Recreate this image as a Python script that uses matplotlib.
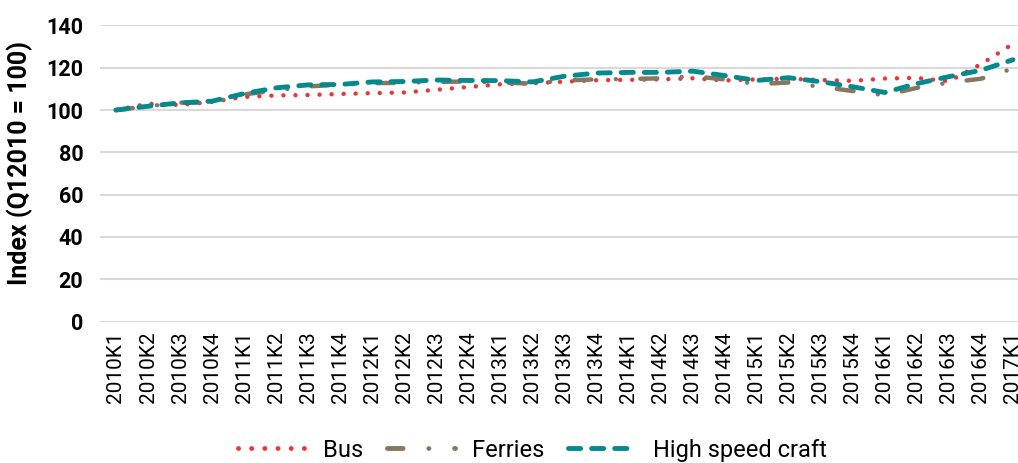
import matplotlib
matplotlib.use('Agg')
from matplotlib import pyplot as plt

quarters = ['2010K1', '2010K2', '2010K3', '2010K4',
            '2011K1', '2011K2', '2011K3', '2011K4',
            '2012K1', '2012K2', '2012K3', '2012K4',
            '2013K1', '2013K2', '2013K3', '2013K4',
            '2014K1', '2014K2', '2014K3', '2014K4',
            '2015K1', '2015K2', '2015K3', '2015K4',
            '2016K1', '2016K2', '2016K3', '2016K4',
            '2017K1']

bus = [100, 103, 102.4, 103.9,
       106.2, 106.9, 107.1, 107.6,
       108, 108.3, 109.6, 110.9,
       112.2, 112.7, 113.4, 114.1,
       114.3, 114.5, 115, 114,
       114.5, 114.8, 114.2, 113.8,
       114.9, 115.2, 113.6, 121.7,
       131.3]

ferries = [100, 101.8, 103.5, 103.6,
           107.4, 109.3, 111.2, 112,
           112.7, 112.9, 113.3, 113.5,
           113, 112.5, 114, 114.5,
           114.7, 115, 116, 114.5,
           112.3, 113, 111, 109,
           107, 110.5, 113, 114.8,
           119.6]

high_speed = [100, 101.8, 103.4, 104.2,
              107.8, 110.5, 111.9, 112.1,
              113.3, 113.5, 114.2, 114,
              113.9, 113.3, 116, 117.5,
              117.8, 117.8, 118.4, 116.3,
              114, 115.3, 113.4, 111,
              108.3, 112.5, 115.8, 118.8,
              123.8]

y_ticks = [0, 20, 40, 60, 80, 100, 120, 140]


def main():
    plt.rcParams['font.family'] = ['Roboto', 'DejaVu Sans']
    fig = plt.figure(figsize=(10.18, 4.63), dpi=100)
    # axes runs a little past the right edge, like the cropped original
    ax = fig.add_axes([0.0982, 0.3056, 0.9126, 0.6394])
    x = list(range(len(quarters)))

    ax.plot(x, bus, color='#E5373C', linewidth=3.2, linestyle=(0, (0.01, 2.7)),
            dash_capstyle='round', label='Bus', zorder=3)
    ax.plot(x, ferries, color='#857762', linewidth=3.2,
            linestyle=(0, (3.8, 5.5, 0.01, 5.5)),
            dash_capstyle='round', label='Ferries', zorder=4)
    ax.plot(x, high_speed, color='#04898C', linewidth=3.5, linestyle=(0, (2.5, 2.25)),
            dash_capstyle='round', label='High speed craft', zorder=5)

    ax.set_xlim(-0.5, len(quarters) - 0.5)
    ax.set_ylim(0, 140)
    ax.set_yticks(y_ticks)
    ax.set_xticks(x)
    ax.set_xticklabels(quarters, rotation=90, fontsize=15)
    ax.tick_params(axis='x', length=0, pad=7)
    ax.tick_params(axis='y', length=0, pad=12, labelsize=15.5)
    for lbl in ax.get_yticklabels():
        lbl.set_fontweight('bold')

    ax.grid(axis='y', color='#D9D9D9', linewidth=1.5)
    ax.set_axisbelow(True)
    for side in ['top', 'right', 'left', 'bottom']:
        ax.spines[side].set_visible(False)

    ax.set_ylabel('Index (Q12010 = 100)', fontsize=18, fontweight='bold')
    ax.yaxis.set_label_coords(-0.072, 0.535)

    # legend: long handles and wide gaps as in the source
    legend = fig.legend(loc='center', bbox_to_anchor=(0.523, 0.028), ncol=3,
                        frameon=False, fontsize=17, handlelength=2.9,
                        handletextpad=0.7, columnspacing=1.0)
    for line in legend.get_lines():
        line.set_linewidth(3.5)
        if line.get_label() == 'Ferries':
            # pattern sized so the short handle ends on a dot: dash, dot, dot
            line.set_linestyle((0, (3.2, 5.3, 0.01, 5.3)))

    fig.savefig('out.png', dpi=100)
    plt.close(fig)


if __name__ == '__main__':
    main()
